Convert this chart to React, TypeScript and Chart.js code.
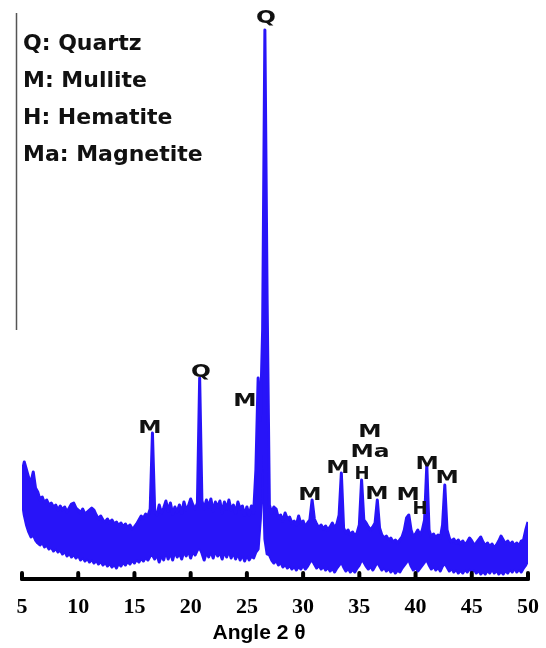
import React, { useEffect, useRef } from "react";
import { Chart, registerables } from "chart.js";

Chart.register(...registerables);

// Sampling grid of the diffractogram (2θ, degrees)
const THETA_START = 5;
const THETA_STEP = 0.2;

// Upper envelope of the noisy trace (intensity, a.u.)
const UPPER = [
  106, 117, 109, 101, 97, 107, 91, 87, 79, 82,
  76, 79, 74, 76, 72, 74, 69, 73, 69, 72,
  67, 71, 75, 76, 71, 69, 66, 70, 65, 67,
  69, 71, 69, 64, 60, 63, 59, 57, 60, 56,
  59, 55, 57, 53, 56, 52, 55, 51, 54, 50,
  52, 55, 59, 63, 61, 65, 63, 70, 146, 68,
  64, 74, 66, 71, 78, 68, 76, 65, 72, 67,
  74, 66, 77, 69, 73, 80, 74, 70, 76, 201,
  78, 70, 79, 72, 80, 68, 77, 72, 78, 66,
  77, 70, 79, 69, 74, 66, 77, 70, 73, 64,
  72, 64, 73, 66, 109, 201, 159, 249, 549, 279,
  74, 66, 72, 70, 61, 64, 58, 66, 60, 62,
  56, 58, 54, 63, 55, 58, 52, 56, 59, 79,
  60, 55, 51, 54, 50, 53, 49, 52, 56, 51,
  55, 64, 106, 51, 46, 49, 44, 47, 43, 46,
  54, 99, 59, 56, 52, 49, 52, 56, 79, 51,
  44, 41, 43, 39, 41, 37, 39, 36, 39, 42,
  49, 61, 64, 49, 42, 45, 49, 44, 49, 59,
  114, 49, 42, 45, 41, 44, 41, 54, 94, 49,
  41, 37, 40, 36, 39, 35, 38, 34, 37, 41,
  38, 34, 36, 39, 42, 37, 33, 36, 32, 35,
  31, 34, 38, 43, 39, 35, 38, 34, 37, 33,
  36, 33, 38, 39, 49, 57,
];

// Lower envelope of the noisy trace (intensity, a.u.)
const LOWER = [
  79, 64, 54, 47, 42, 44, 39, 36, 34, 37,
  32, 34, 30, 32, 28, 31, 27, 29, 25, 28,
  23, 26, 22, 25, 21, 24, 19, 22, 18, 21,
  17, 20, 16, 19, 15, 18, 14, 17, 13, 16,
  12, 15, 11, 16, 13, 17, 14, 18, 15, 19,
  16, 20, 17, 21, 18, 22, 19, 23, 24, 20,
  25, 17, 24, 19, 28, 20, 27, 19, 28, 22,
  26, 20, 28, 23, 29, 21, 28, 24, 29, 31,
  26, 19, 27, 22, 28, 21, 29, 23, 27, 20,
  28, 22, 29, 21, 27, 20, 26, 19, 25, 18,
  24, 19, 23, 21, 27, 30, 60, 124, 40, 25,
  24, 19, 16, 19, 14, 17, 12, 15, 11, 14,
  10, 13, 9, 13, 10, 14, 10, 13, 17, 19,
  15, 11, 14, 10, 13, 9, 12, 8, 11, 7,
  11, 14, 17, 12, 8, 11, 7, 10, 7, 11,
  14, 19, 17, 13, 10, 13, 9, 13, 17, 13,
  9, 12, 8, 11, 7, 10, 6, 9, 7, 11,
  14, 17, 19, 13, 9, 12, 8, 11, 14, 17,
  19, 14, 10, 13, 9, 12, 8, 13, 16, 12,
  8, 11, 7, 10, 6, 9, 6, 10, 7, 11,
  7, 10, 6, 9, 5, 8, 5, 9, 6, 10,
  6, 9, 5, 8, 5, 9, 6, 10, 7, 11,
  7, 10, 7, 11, 14, 19,
];

const X_MIN = 5;
const X_MAX = 50;
const X_STEP = 5;
const Y_MAX = 579;
const X_TITLE = "Angle 2 θ";

const LEGEND_LINES = ["Q: Quartz", "M: Mullite", "H: Hematite", "Ma: Magnetite"];

// Phase labels over the peaks: text, 2θ position, intensity level of label centre
const PEAK_LABELS = ["Q", "Q", "M", "M", "M", "M", "H", "Ma", "M", "M", "M", "H", "M", "M"];
const PEAK_LABEL_THETA = [26.7, 20.92, 16.38, 24.83, 30.61, 33.1, 35.24, 35.95, 35.95, 36.57, 39.33, 40.4, 41.02, 42.8];
const PEAK_LABEL_LEVEL = [561, 207, 151, 178, 84, 111, 105, 127, 147, 85, 84, 70, 115, 101];

// Short leftover vertical axis line at the left (intensity span)
const VLINE_TOP = 566;
const VLINE_BOTTOM = 249;

const BLUE = "rgb(40, 20, 248)";

const decorPlugin = {
  id: "decor",
  afterDatasetsDraw(chart: any) {
    const { ctx, chartArea, scales } = chart;
    const xs = scales.x;
    const ys = scales.y;
    ctx.save();

    // left thin vertical line
    ctx.strokeStyle = "#555";
    ctx.lineWidth = 1.5;
    ctx.beginPath();
    ctx.moveTo(chartArea.left - 5.5, ys.getPixelForValue(VLINE_TOP));
    ctx.lineTo(chartArea.left - 5.5, ys.getPixelForValue(VLINE_BOTTOM));
    ctx.stroke();

    // x axis line with inward ticks
    ctx.strokeStyle = "#000";
    ctx.lineCap = "round";
    ctx.lineWidth = 4;
    ctx.beginPath();
    ctx.moveTo(chartArea.left, chartArea.bottom);
    ctx.lineTo(chartArea.right, chartArea.bottom);
    ctx.stroke();
    for (let v = X_MIN; v <= X_MAX; v += X_STEP) {
      const px = xs.getPixelForValue(v);
      ctx.beginPath();
      ctx.moveTo(px, chartArea.bottom - 6);
      ctx.lineTo(px, chartArea.bottom);
      ctx.stroke();
    }

    // legend text block
    ctx.fillStyle = "#111";
    ctx.textAlign = "left";
    ctx.textBaseline = "alphabetic";
    ctx.font = 'bold 22px "DejaVu Sans"';
    LEGEND_LINES.forEach((t, i) => {
      ctx.fillText(t, chartArea.left + 1, chartArea.top + 50 + i * 36.9);
    });

    // peak labels
    ctx.font = 'bold 18px "DejaVu Sans"';
    ctx.textAlign = "center";
    ctx.textBaseline = "middle";
    PEAK_LABELS.forEach((t, i) => {
      const px = xs.getPixelForValue(PEAK_LABEL_THETA[i]);
      const py = ys.getPixelForValue(PEAK_LABEL_LEVEL[i]);
      const sx = t === "H" ? 1.0 : 1.3;
      ctx.save();
      ctx.translate(px, py);
      ctx.scale(sx, 1);
      ctx.fillText(t, 0, 0);
      ctx.restore();
    });

    // axis title
    ctx.font = 'bold 21px "Liberation Sans"';
    ctx.textAlign = "center";
    ctx.textBaseline = "middle";
    ctx.fillStyle = "#000";
    ctx.fillText(X_TITLE, (chartArea.left + chartArea.right) / 2 - 16, chartArea.bottom + 54);

    ctx.restore();
  },
};

export default function App() {
  const ref = useRef<HTMLCanvasElement | null>(null);

  useEffect(() => {
    if (!ref.current) return;
    const upper = UPPER.map((v, i) => ({ x: THETA_START + i * THETA_STEP, y: v }));
    const lower = LOWER.map((v, i) => ({ x: THETA_START + i * THETA_STEP, y: v }));
    const chart = new Chart(ref.current, {
      type: "line",
      data: {
        datasets: [
          {
            data: upper,
            borderColor: BLUE,
            backgroundColor: BLUE,
            borderWidth: 3,
            pointRadius: 0,
            tension: 0,
            fill: "+1",
            borderJoinStyle: "round",
          },
          {
            data: lower,
            borderColor: BLUE,
            backgroundColor: BLUE,
            borderWidth: 3,
            pointRadius: 0,
            tension: 0,
            fill: false,
            borderJoinStyle: "round",
          },
        ],
      },
      options: {
        animation: false,
        responsive: false,
        devicePixelRatio: 1,
        layout: { padding: { left: 22, right: 18, top: 0, bottom: 0 } },
        plugins: {
          legend: { display: false },
          tooltip: { enabled: false },
          title: { display: false },
        },
        scales: {
          x: {
            type: "linear",
            min: X_MIN,
            max: X_MAX,
            border: { display: false },
            grid: { display: false, drawTicks: false },
            ticks: {
              stepSize: X_STEP,
              autoSkip: false,
              maxRotation: 0,
              padding: 15,
              color: "#000",
              font: { family: '"Liberation Serif"', size: 22, weight: "bold" },
            },
            afterFit: (scale: any) => {
              scale.height = 69;
              scale.paddingLeft = 0;
              scale.paddingRight = 0;
            },
          },
          y: {
            display: false,
            min: 0,
            max: Y_MAX,
          },
        },
      },
      plugins: [decorPlugin],
    } as any);
    return () => chart.destroy();
  }, []);

  return (
    <div style={{ position: "absolute", left: 0, top: 0, width: 546, height: 648, background: "#fff" }}>
      <canvas ref={ref} width={546} height={648} style={{ display: "block", width: 546, height: 648 }} />
    </div>
  );
}
